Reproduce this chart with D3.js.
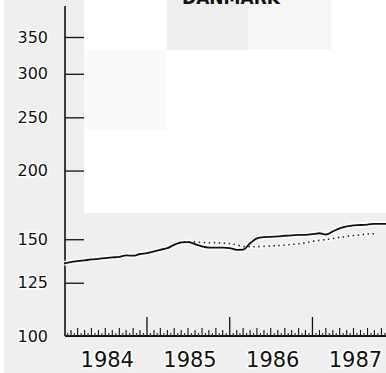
<!DOCTYPE html>
<html><head><meta charset="utf-8">
<script src="https://cdn.jsdelivr.net/npm/d3@7"></script>
<style>
html,body{margin:0;padding:0;background:#efefef;}
svg{display:block;}
text{font-family:"DejaVu Sans",sans-serif;}
</style></head>
<body>
<script>
const title = "DANMARK";
const startMonth = "1984-01";
// monthly index values, Jan 1984 onward
const solidValues = [135.5,136.3,136.8,137.3,137.8,138.2,138.6,139.0,139.3,140.2,140.0,141.0,
  141.5,142.5,143.5,144.5,146.5,148.0,148.2,147.0,145.5,144.8,144.8,144.8,
  144.5,143.5,143.6,147.5,150.5,151.3,151.5,151.8,152.2,152.5,152.7,152.8,
  153.2,153.8,153.0,155.0,157.0,158.3,159.0,159.2,159.5,160.0,160.0,160.0];
// dotted series starts at month index 16 (May 1985)
const dottedStart = 16;
const dottedValues = [146.5,148.0,148.4,148.3,148.0,147.8,147.9,147.6,
  147.3,146.5,145.5,145.3,145.4,145.6,145.8,146.0,146.4,146.8,147.2,147.8,
  148.6,149.3,149.8,150.5,151.2,151.8,152.3,152.8,153.3,153.5];
const yTicks = [100,125,150,200,250,300,350];
const yearLabels = ["1984","1985","1986","1987"];

const W = 386, H = 373;
const svg = d3.select("body").append("svg").attr("width", W).attr("height", H);

// scan-like background patches
const patches = [
  [0,0,4,H,"#ffffff"],
  [84,0,83,50,"#ffffff"],[167,0,81,50,"#eeeeee"],[248,0,83,50,"#f6f6f6"],[331,0,55,50,"#ffffff"],
  [84,50,83,80,"#fafafa"],[84,130,83,83,"#ffffff"],[167,50,219,163,"#ffffff"]
];
svg.selectAll("rect.bg").data(patches).join("rect").attr("class","bg")
  .attr("x",d=>d[0]).attr("y",d=>d[1]).attr("width",d=>d[2]).attr("height",d=>d[3]).attr("fill",d=>d[4]);

const parse = d3.timeParse("%Y-%m");
const t0 = parse(startMonth);
const months = solidValues.map((v,i)=>d3.timeMonth.offset(t0,i));

const x = d3.scaleTime().domain([parse("1984-01"), parse("1988-01")]).range([64, 395.2]);
const y = d3.scaleLog().domain([100,350]).range([336,37]);

// title
svg.append("text").attr("x",231).attr("y",4).attr("text-anchor","middle")
  .attr("font-weight","bold").attr("font-size",17).attr("fill","#111").text(title);

// y axis
const yAxis = d3.axisLeft(y).tickValues(yTicks).tickFormat(d3.format("d"))
  .tickSizeInner(-19).tickSizeOuter(0).tickPadding(17);
const gy = svg.append("g").attr("transform","translate(65,0)").call(yAxis);
gy.select(".domain").remove();
gy.selectAll(".tick line").attr("stroke","#111").attr("stroke-width",1.3)
  .filter(d=>d===100).remove();
gy.selectAll(".tick text").attr("font-size",16).attr("fill","#111")
  .attr("stroke","#fff").attr("stroke-width",3).attr("paint-order","stroke").attr("font-family","DejaVu Sans");
svg.append("line").attr("x1",65).attr("x2",65).attr("y1",y(100)).attr("y2",6)
  .attr("stroke","#111").attr("stroke-width",1.6);

// x axis
const base = y(100);
svg.append("line").attr("x1",65).attr("x2",W).attr("y1",base).attr("y2",base)
  .attr("stroke","#111").attr("stroke-width",1.8);
const allMonths = d3.timeMonth.range(parse("1984-01"), parse("1988-01"));
const halfMonths = allMonths.map(m=>new Date((+m + +d3.timeMonth.offset(m,1))/2));
svg.selectAll("line.hm").data(halfMonths).join("line").attr("class","hm")
  .attr("x1",d=>x(d)).attr("x2",d=>x(d)).attr("y1",base).attr("y2",base-3)
  .attr("stroke","#333").attr("stroke-width",1.2);
svg.selectAll("line.mt").data(allMonths.filter(d=>d.getMonth()!==0)).join("line").attr("class","mt")
  .attr("x1",d=>x(d)).attr("x2",d=>x(d)).attr("y1",base)
  .attr("y2",d=>base-(d.getMonth()%2===0?8:6))
  .attr("stroke","#111").attr("stroke-width",1.1);
const years = yearLabels.map(s=>d3.timeParse("%Y")(s));
svg.selectAll("line.yt").data(years.slice(1)).join("line").attr("class","yt")
  .attr("x1",d=>x(d)).attr("x2",d=>x(d)).attr("y1",base).attr("y2",base-19)
  .attr("stroke","#111").attr("stroke-width",1.3);
svg.selectAll("text.yl").data(years).join("text").attr("class","yl")
  .attr("x",d=>x(d3.timeMonth.offset(d,6))+2).attr("y",367)
  .attr("text-anchor","middle").attr("font-size",21).attr("fill","#111")
  .attr("stroke","#fff").attr("stroke-width",3).attr("paint-order","stroke")
  .text((d,i)=>yearLabels[i]);

// series
const line = d3.line().x(d=>x(d[0])).y(d=>y(d[1])).curve(d3.curveMonotoneX);
const solidData = months.map((m,i)=>[m, solidValues[i]]);
const dottedData = dottedValues.map((v,i)=>[d3.timeMonth.offset(t0, dottedStart+i), v]);

svg.append("path").datum(dottedData).attr("d",line).attr("fill","none")
  .attr("stroke","#fff").attr("stroke-width",4).attr("opacity",0.8);
svg.append("path").datum(solidData).attr("d",line).attr("fill","none")
  .attr("stroke","#fff").attr("stroke-width",5).attr("opacity",0.8);
svg.append("path").datum(dottedData).attr("d",line).attr("fill","none")
  .attr("stroke","#222").attr("stroke-width",1.6).attr("stroke-dasharray","1.5,3.5");
svg.append("path").datum(solidData).attr("d",line).attr("fill","none")
  .attr("stroke","#111").attr("stroke-width",1.8);
</script>
</body></html>
